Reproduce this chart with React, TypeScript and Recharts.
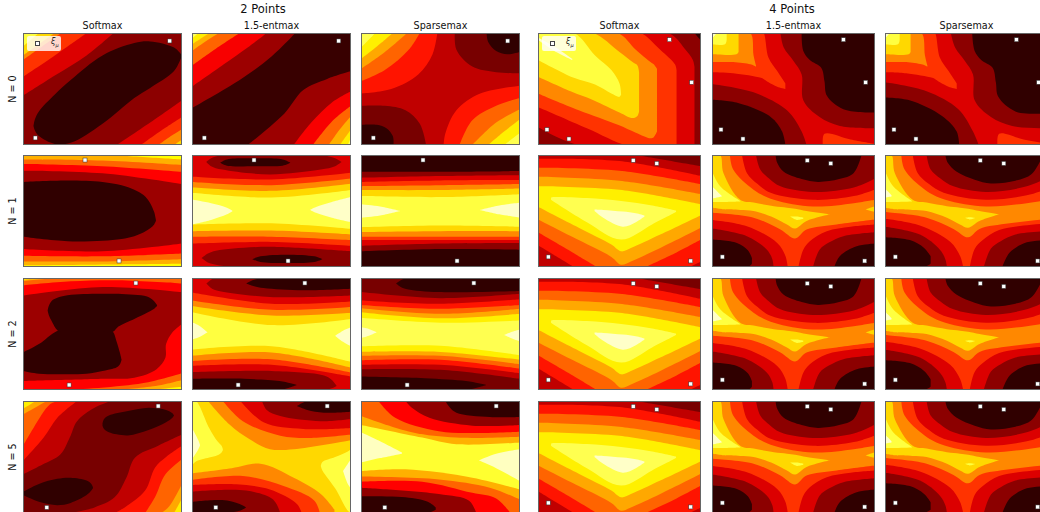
import { Area, ComposedChart, Scatter, XAxis, YAxis } from "recharts";

// one filled contour piece: [level, x values, upper edge, lower edge], all in % of the panel, y from the top
type Region = [number, number[], number | number[], number | number[]];
type Pt = { x: number; y: number };

const hotA = ["#300000", "#8c0000", "#dc0000", "#ff3300", "#ff8800", "#ffd800", "#ffff40", "#ffffc8"];
const hotB = ["#300000", "#780000", "#c00000", "#ff1400", "#ff6400", "#ffa800", "#fff000", "#ffff50", "#ffffc8"];
const hotC = ["#380000", "#9c0000", "#f80000", "#ff6400", "#ffb000", "#ffee00", "#ffff60", "#ffffc8"];
const hotD = ["#300000", "#9c0000", "#ff0000", "#ff6400", "#ffb000", "#ffff00"];
const hotG = ["#300000", "#900000", "#ff0000", "#ff6400", "#ffb000", "#ffff30", "#ffffc0"];

const groupTitles = ["2 Points", "4 Points"];
const methods = ["Softmax", "1.5-entmax", "Sparsemax"];
const rowNames = ["N = 0", "N = 1", "N = 2", "N = 5"];

const ptsN0: Pt[] = [{ x: 7.7, y: 93.7 }, { x: 92.3, y: 7.1 }];
const ptsN1: Pt[] = [{ x: 39, y: 4.5 }, { x: 60.4, y: 94.6 }];
const ptsN2: Pt[] = [{ x: 71, y: 4.5 }, { x: 29, y: 95.5 }];
const ptsN5: Pt[] = [{ x: 85, y: 4.5 }, { x: 15, y: 95 }];
const pts4N0: Pt[] = [{ x: 5.5, y: 86.3 }, { x: 19, y: 94.6 }, { x: 80.6, y: 6 }, { x: 94.3, y: 44 }];
const pts4: Pt[] = [{ x: 58.4, y: 4.8 }, { x: 72.9, y: 7.5 }, { x: 6.3, y: 91 }, { x: 93.7, y: 94.6 }];

const soft2N0: Region[] = [
  [1, [0, 100], 0, 100],
  [2, [0, 20, 40, 57], 0, [56, 38, 20, 0]],
  [3, [0, 20, 40], 0, [39, 20, 0]],
  [4, [0, 12, 24], 0, [24, 12, 0]],
  [5, [0, 10, 20], 0, [20, 10, 0]],
  [6, [0, 10], 0, [12, 0]],
  [2, [59, 80, 100], [100, 80, 60], 100],
  [3, [74, 87, 100], [100, 87, 75], 100],
  [4, [85, 92, 100], [100, 93, 86], 100],
  [5, [95, 100], [100, 95], 100],
  [0, [6.6, 7.5, 10, 20, 30, 50, 70, 80, 95, 100], [83, 77, 70, 55, 42, 20, 9, 7.5, 13, 20], [83, 87, 92, 99, 98, 81, 58, 49, 34, 20]],
];
const ent2N0: Region[] = [
  [0, [0, 100], 0, 100],
  [1, [0, 30, 50, 65], 0, [67, 42, 21, 0]],
  [2, [0, 20, 35, 47], 0, [48, 28, 13, 0]],
  [3, [0, 15, 30], 0, [29, 14, 0]],
  [4, [0, 8, 17], 0, [16, 8, 0]],
  [5, [0, 11], 0, [10, 0]],
  [6, [0, 4], 0, [5, 0]],
  [1, [35, 58, 70, 85, 100], [100, 72, 51, 41, 34], 100],
  [2, [64, 75, 88, 100], [100, 80, 62, 52], 100],
  [3, [76, 88, 100], [100, 79, 65], 100],
  [4, [86, 93, 100], [100, 86, 74], 100],
  [5, [93, 100], [100, 86], 100],
  [6, [98, 100], [100, 93], 100],
];
const sparse2N0: Region[] = [
  [2, [0, 100], 0, 100],
  [1, [59, 60, 70, 85, 100], 0, [0, 15, 30, 35, 36]],
  [0, [79, 80, 85, 92, 100], 0, [0, 8, 16, 19, 17]],
  [1, [0, 15, 28, 37, 41], [65, 65, 69, 81, 100], 100],
  [0, [0, 10, 16, 20, 20.5], [82, 82, 85, 92, 100], 100],
  [3, [0, 19, 36, 45, 48], 0, [54, 50, 37, 19, 0]],
  [4, [0, 15, 30, 37], 0, [43, 33, 15, 0]],
  [5, [0, 15, 29], 0, [32, 17, 0]],
  [6, [0, 10, 20], 0, [23, 12, 0]],
  [7, [0, 9], 0, [13, 0]],
  [3, [52, 53, 60, 75, 100], [100, 90, 69, 54, 47], 100],
  [4, [62, 70, 85, 100], [100, 78, 65, 58], 100],
  [5, [70, 85, 100], [100, 80, 68], 100],
  [6, [80, 90, 100], [100, 88, 77], 100],
  [7, [90, 100], [100, 89], 100],
];
const soft4N0: Region[] = [
  [1, [0, 100], 0, 100],
  [0, [96, 100], 0, [0, 7]],
  [2, [0, 25, 80, 90, 95, 96], [0, 0, 0, 14, 24, 30], [84, 100, 100, 100, 100, 100]],
  [3, [0, 30, 54, 63, 75, 84, 85], [0, 0, 0, 0, 15, 28, 33], [66, 85, 100, 100, 100, 100, 100]],
  [4, [0, 25, 49, 60, 69, 71, 73], [0, 0, 0, 15, 26, 28, 32], [54, 69, 82, 89, 94, 93, 88]],
  [5, [0, 20, 34, 50, 58, 61, 62], [0, 0, 0, 17, 26, 29, 35], [39, 52, 60, 71, 76, 74, 70]],
  [6, [0, 22, 35, 45, 50, 51], [0, 0, 20, 33, 45, 55], [24, 40, 46, 54, 57, 55]],
  [7, [0, 10, 21], [4, 12, 23], [6, 16, 24]],
];
const ent4N0: Region[] = [
  [2, [0, 100], 0, 100],
  [3, [0, 13, 30, 31.6, 34.7, 40, 45], [0, 0, 0, 0, 22, 34, 45], [35, 36, 40, 41, 44, 48, 50]],
  [4, [0, 13, 23.5, 25.5, 27], [0, 0, 0, 20, 29], [26, 26, 28, 29, 30]],
  [5, [0, 15, 16.3], 0, [19, 19, 17]],
  [6, [0, 8, 9], 0, [10, 10, 6]],
  [7, [0, 3], 0, [5, 0]],
  [1, [42, 44, 50, 55, 56, 66, 78.5, 100], 0, [0, 13, 25, 37, 60, 75, 83, 85]],
  [0, [55, 56, 60, 67, 69, 70.5, 80.6, 100], 0, [0, 16, 24, 31, 43, 56, 68, 71]],
  [1, [0, 25.5, 46, 55, 58], [45.5, 53, 69, 88, 100], 100],
  [0, [0, 15, 36, 43, 45], [59.5, 62, 75, 88, 100], 100],
  [3, [68, 69, 85, 100], [100, 90, 95, 99], 100],
];
const sparse4N0: Region[] = [
  [2, [0, 100], 0, 100],
  [3, [0, 13, 29, 30.6, 33.7, 39, 44], [0, 0, 0, 0, 22, 34, 45], [35, 36, 40, 41, 44, 48, 50]],
  [4, [0, 13, 22.4, 24.5, 26], [0, 0, 0, 20, 29], [26, 26, 28, 29, 30]],
  [5, [0, 14.5, 15.7], 0, [19, 19, 17]],
  [6, [0, 8, 9], 0, [10, 10, 6]],
  [7, [0, 3], 0, [5, 0]],
  [1, [40.4, 43, 49, 54, 55, 65, 78, 100], 0, [0, 13, 25, 37, 60, 75, 83, 85]],
  [0, [53.5, 55, 59, 66, 68, 69.5, 80, 100], 0, [0, 16, 24, 31, 44, 57, 70, 72]],
  [1, [0, 25.5, 45, 54, 57.5], [44, 52, 68, 88, 100], 100],
  [0, [0, 15, 35, 44, 45.5], [57.5, 60, 74, 88, 100], 100],
  [3, [69, 70, 85, 100], [100, 90, 95, 99], 100],
];

const soft2N1: Region[] = [
  [1, [0, 100], 0, 100],
  [2, [0, 50, 100], 0, [14, 16.4, 26]],
  [3, [0, 50, 100], 0, [8, 10, 15]],
  [4, [0, 50, 100], 0, [4, 5, 9]],
  [5, [55, 100], 0, [0, 4]],
  [2, [0, 50, 100], [84, 86, 79], 100],
  [3, [0, 50, 100], [90, 90.5, 88], 100],
  [4, [0, 50, 100], [95, 95, 93], 100],
  [5, [0, 100], [98.5, 97], 100],
  [0, [0, 28, 50, 62, 70, 76, 80, 82.5, 83.6], [24, 22.7, 24, 27, 31, 36, 43, 51, 58], [73, 77, 76.5, 75, 72.5, 69, 65.5, 62, 59]],
];
const ent2N1: Region[] = [
  [6, [0, 100], 0, 100],
  [5, [0, 50, 100], 0, [33.7, 38, 31.3]],
  [4, [0, 50, 100], 0, [28.7, 32, 25.7]],
  [3, [0, 50, 100], 0, [24, 26.9, 21]],
  [2, [0, 50, 100], 0, [19.4, 21.8, 15.8]],
  [1, [9, 12, 19, 49, 81, 90, 94], [6.3, 3, 0, 0, 0, 3, 6.3], [6.3, 10, 13, 17.3, 13, 10, 6.3]],
  [0, [17.7, 22, 40, 57, 62], [6.9, 4, 3, 4, 6.9], [6.9, 9.5, 10, 9.5, 6.9]],
  [5, [0, 50, 100], [62, 61, 66], 100],
  [4, [0, 50, 100], [68, 67.5, 71], 100],
  [3, [0, 50, 100], [73, 73, 76], 100],
  [2, [0, 50, 100], [79, 77.6, 81], 100],
  [1, [6, 10, 15, 26, 49, 100], [92, 88, 85.5, 83.5, 82, 86], [92, 96, 98, 100, 100, 100]],
  [0, [38, 43, 60, 77, 82], [93, 90.5, 89, 90.5, 93], [93, 95.5, 96.5, 95.5, 93]],
  [7, [0, 12, 22, 25.7], [39.7, 43, 47, 50], [62, 58, 53, 50]],
  [7, [74.3, 78, 88, 100], [49, 46.5, 42, 37.6], [49, 51.5, 56, 60]],
];
const sparse2N1: Region[] = [
  [6, [0, 100], 0, 100],
  [5, [0, 50, 100], 0, [36.7, 37.6, 35]],
  [4, [0, 50, 100], 0, [31.3, 31.3, 30]],
  [3, [0, 50, 100], 0, [27.8, 27, 26]],
  [2, [0, 50, 100], 0, [24, 22.7, 22.4]],
  [1, [0, 50, 100], 0, [20.3, 18.8, 18]],
  [0, [0, 50, 100], 0, [15, 15, 14.3]],
  [5, [0, 50, 100], [64.5, 63, 64], 100],
  [4, [0, 50, 100], [68.7, 68, 68], 100],
  [3, [0, 50, 100], [73, 73, 73], 100],
  [2, [0, 50, 100], [76, 76, 76], 100],
  [1, [0, 50, 100], [81, 79, 78.5], 100],
  [0, [0, 50, 100], [86, 84, 84.5], 100],
  [7, [0, 12, 24.7], [44, 46, 50], [56, 54, 50]],
  [7, [74.7, 87, 100], [49, 45, 42.7], [49, 53, 56]],
];
const soft4: Region[] = [
  [6, [0, 100], 0, 100],
  [7, [8, 10, 30, 51, 70, 84.7], [38, 37.6, 38.5, 41, 45, 49.5], [40, 42, 60, 75.5, 62, 51]],
  [8, [34.7, 40, 52, 60, 65.3], [48.6, 49, 50.5, 52, 54], [50, 56, 64, 60, 55]],
  [5, [0, 50, 100], 0, [27.8, 31, 44]],
  [4, [0, 50, 100], 0, [19.4, 23, 35]],
  [3, [0, 50, 100], 0, [11.3, 14, 26]],
  [2, [0, 50, 100], 0, [3.3, 5.4, 18.8]],
  [1, [60, 100], 0, [0, 10]],
  [5, [0, 25, 45, 51, 57, 75, 100], [46.3, 65, 80, 86, 83, 71, 53.7], 100],
  [4, [0, 25, 45, 51, 57, 75, 100], [57.6, 76, 91, 98, 95, 83, 65], 100],
  [3, [0, 20, 36], [69, 86, 100], 100],
  [3, [66, 85, 100], [100, 87, 75.5], 100],
  [2, [0, 22], [80.6, 100], 100],
  [2, [93, 100], [100, 95], 100],
];
const ent4: Region[] = [
  [4, [0, 100], 0, 100],
  [5, [0, 5, 7, 17.3, 25.5, 38, 46, 51, 58, 72.4], [0, 0, 16, 40, 42.5, 45.7, 47, 48, 50, 53], [47, 48, 48.5, 49, 50, 56, 62, 65.7, 59, 53]],
  [5, [94, 100], [48.5, 45.7], [48.5, 51]],
  [6, [0, 5, 17.3], [14.3, 28, 41], [42, 42, 41.5]],
  [7, [0, 6], [28, 36.7], [38.8, 37]],
  [6, [48, 52, 56], [55, 55, 56], [55, 58, 57]],
  [3, [11, 13, 25.5, 38, 62, 87, 100], 0, [0, 13, 31, 40, 46, 43, 40]],
  [2, [18.4, 21.4, 28, 36, 62, 87, 100], 0, [0, 16, 26, 33.7, 40, 36.7, 30.7]],
  [1, [27, 29.6, 35, 42, 62, 87, 100], 0, [0, 13, 21, 28, 33, 29, 21]],
  [0, [39, 40, 44, 55, 65, 78, 87, 91.8], 0, [0, 7, 15, 21.5, 24, 21.5, 16, 0]],
  [3, [0, 25.5, 42, 51, 58, 76.5, 100], [51.6, 56, 66.6, 74.6, 66.6, 62, 57.6], 100],
  [2, [0, 21.4, 40, 45, 46.5], [58, 63.6, 78.5, 90, 100], 100],
  [1, [0, 21.4, 33.7, 37, 37.8], [65.7, 72.5, 84.5, 93, 100], 100],
  [0, [0, 15.3, 22, 24.5], [75.5, 78.5, 85, 92], [100, 100, 100, 97]],
  [2, [53, 56, 60, 70.4, 85, 100], [100, 84.5, 77, 68, 64, 62], 100],
  [1, [62, 66, 72, 80.6, 100], [100, 84.5, 78, 72.5, 69], 100],
  [0, [75, 78.6, 88.8, 100], [100, 90, 81.5, 79], 100],
];
const sparse4: Region[] = [
  [4, [0, 100], 0, 100],
  [5, [0, 4, 6, 17, 25.5, 38, 46, 51, 58, 70], [0, 0, 16, 40, 42.5, 45.7, 47, 48, 50, 53], [47, 48, 48.5, 49, 50, 56, 62, 65, 59, 53]],
  [6, [0, 5, 16.5], [14.3, 28, 41], [42, 42, 41.5]],
  [7, [0, 4], [30, 36], [38, 37]],
  [6, [49, 52, 55], [56, 55.5, 56], [56, 57.5, 56.5]],
  [3, [10, 12, 24.5, 37, 62, 87, 100], 0, [0, 13, 31, 40, 46, 43, 40]],
  [2, [17, 20, 27, 36, 62, 87, 100], 0, [0, 16, 26, 33.7, 40, 36, 30]],
  [1, [25.5, 28, 34, 42, 62, 87, 100], 0, [0, 13, 21, 28, 33, 28, 20]],
  [0, [37, 38.5, 44, 55, 65, 80, 90, 97], 0, [0, 7, 15, 22, 25.4, 23, 17, 0]],
  [3, [0, 25.5, 42, 51, 58, 76.5, 100], [51, 56, 66, 73.5, 66, 61, 57], 100],
  [2, [0, 21.4, 40, 46, 48], [57, 63, 77.5, 90, 100], 100],
  [1, [0, 21.4, 33.7, 37, 38], [64, 71, 84.5, 93, 100], 100],
  [0, [0, 15.3, 24, 28], [73.4, 76, 83, 90.4], [100, 100, 100, 97]],
  [2, [52, 55, 60, 70, 85, 100], [100, 84, 76, 67, 63, 61], 100],
  [1, [60.6, 65, 71, 80, 100], [100, 83.5, 77, 71, 68], 100],
  [0, [72, 76.5, 87, 100], [100, 87, 78, 76], 100],
];

const soft2N2: Region[] = [
  [1, [0, 100], 0, 100],
  [2, [0, 50, 100], 0, [15.6, 8, 12.6]],
  [3, [0, 30, 60, 100], 0, [6.6, 3, 2, 5]],
  [4, [0, 20], 0, [2.7, 0]],
  [5, [0, 10], 0, [1.5, 0]],
  [2, [0, 50, 70, 84, 89.6, 90, 94, 100], [92, 90, 89, 81.4, 71, 59, 48.5, 41], 100],
  [3, [30, 75, 100], [100, 94, 85], 100],
  [4, [60, 85, 100], [100, 96, 91], 100],
  [5, [80, 100], [100, 97], 100],
  [0, [0, 10, 21.7, 40, 50, 56.6, 58.7, 61, 62], [66.5, 59, 47, 40, 40, 48, 56, 67, 73], [83, 85.5, 86, 85.5, 83, 81, 80, 77, 73]],
  [0, [15.5, 16.2, 18, 22, 28, 38, 49, 56.6, 60, 70, 78, 82, 84.3], [29, 25, 20.5, 17.5, 15.5, 14.3, 14, 14, 14, 15, 16.5, 20, 24], [29, 33, 38.5, 47, 48, 48, 48, 48, 43.4, 36.5, 31, 28, 25]],
];
const ent2N2: Region[] = [
  [6, [0, 100], 0, 100],
  [5, [0, 50, 100], 0, [30.5, 42, 36.5]],
  [4, [0, 50, 100], 0, [25, 33.5, 31]],
  [3, [0, 50, 100], 0, [20, 28.4, 26]],
  [2, [0, 50, 100], 0, [13, 23, 21]],
  [1, [9, 12, 15, 49, 100], [5, 1.5, 0, 0, 0], [5, 9, 11, 17, 15.6]],
  [0, [34, 38, 45, 70, 100], [5, 2, 0, 0, 0], [5, 7, 9, 11, 9.6]],
  [5, [0, 50, 100], [64, 61, 75], 100],
  [4, [0, 50, 100], [69.5, 66.5, 80], 100],
  [3, [0, 50, 100], [74, 72.5, 84.4], 100],
  [2, [0, 50, 100], [78.4, 77.5, 88], 100],
  [1, [0, 50, 83, 88, 91], [84, 83, 87, 91, 96.4], [100, 100, 100, 98.5, 96.4]],
  [0, [0, 33, 55, 62, 66], [90, 90, 92, 94, 95.5], [100, 100, 100, 97.5, 95.5]],
  [7, [0, 5, 9.8], [39.5, 43, 48.5], [55, 52.5, 48.5]],
  [7, [90, 95, 100], [51.5, 47, 44], [51.5, 57, 61]],
];
const sparse2N2: Region[] = [
  [7, [0, 100], 0, 100],
  [6, [0, 50, 100], 0, [35.6, 40, 38]],
  [5, [0, 50, 100], 0, [30.5, 36, 32]],
  [4, [0, 50, 100], 0, [27, 32, 27.5]],
  [3, [0, 50, 100], 0, [24, 27.5, 24]],
  [2, [0, 50, 100], 0, [20, 23, 19]],
  [1, [0, 50, 100], 0, [12.6, 18, 14]],
  [0, [22, 25, 29, 49, 100], [5, 2, 0, 0, 0], [5, 8, 10, 12.6, 11.5]],
  [6, [0, 50, 100], [61, 60.5, 69], 100],
  [5, [0, 50, 100], [66, 66, 73], 100],
  [4, [0, 50, 100], [69.5, 69.5, 77], 100],
  [3, [0, 50, 100], [73.4, 73, 81], 100],
  [2, [0, 50, 100], [77.5, 77.5, 85], 100],
  [1, [0, 50, 100], [81.4, 82, 90], 100],
  [0, [0, 40, 66, 74, 79], [88, 89.5, 92, 94, 95.5], [100, 100, 100, 97.5, 95.5]],
  [8, [0, 5, 10], [44, 45.5, 48.5], [53.6, 51.5, 48.5]],
  [8, [90, 95, 100], [51, 48, 46], [51, 54, 56.6]],
];

const soft2N5: Region[] = [
  [1, [0, 100], 0, 100],
  [2, [0, 12, 23.6, 29.4, 34, 45, 55.5], 0, [65.5, 57, 47.6, 32.7, 18, 6, 0]],
  [3, [0, 13, 21.6, 34], 0, [53.6, 32.7, 15, 0]],
  [4, [0, 6.6, 17, 22.5], 0, [40, 24, 3, 0]],
  [5, [0, 15], 0, [12, 0]],
  [6, [0, 8], 0, [7, 0]],
  [2, [30, 45, 57.6, 65, 70.4, 85, 100], [100, 95, 86, 68.5, 50.6, 40, 30], 100],
  [3, [57.6, 64, 76.8, 83, 90, 100], [100, 95, 80, 59.5, 50, 40], 100],
  [4, [76.8, 83, 89.6, 100], [100, 86, 65.5, 52], 100],
  [5, [87, 92, 100], [100, 94, 74], 100],
  [6, [95, 100], [100, 87], 100],
  [0, [50, 51, 54, 66, 79, 90, 94, 95], [20, 16, 13, 9, 6, 8, 11, 13], [22, 25, 28, 30.7, 26, 19, 15, 13]],
  [0, [0, 10, 21.5, 30, 40, 43, 44], [81, 74, 69.5, 68.5, 71, 74, 77], [84, 90, 93, 91, 84, 80, 78]],
];
const ent2N5: Region[] = [
  [5, [0, 100], 0, 100],
  [6, [0, 2.5, 10.8, 16, 18.6, 19.4], [0, 0, 24, 36, 40, 43], [57.4, 54, 50.5, 48.5, 46, 44]],
  [7, [0, 4, 5], [24, 35, 39], [52, 43, 40]],
  [6, [81, 82, 90, 98, 100], [58, 54.5, 50, 45, 43], [58, 62, 78, 98, 100]],
  [7, [95, 98, 100], [62.5, 56, 52], [62.5, 74, 78]],
  [4, [10, 23.6, 36, 49, 64, 100], 0, [0, 21, 34, 43, 43, 35]],
  [3, [19.4, 32, 55.5, 75, 100], 0, [0, 18, 31, 33, 30]],
  [2, [30.4, 45, 70, 100], 0, [0, 19, 25, 24]],
  [1, [44, 47, 55.5, 81, 100], 0, [0, 8, 13.4, 18, 16]],
  [0, [66, 72.5, 83, 100], [4.5, 0, 0, 0], [4.5, 8, 10.4, 9.5]],
  [4, [0, 25, 43, 64, 81, 89.6], [64.6, 60, 56, 68.5, 83, 97], 100],
  [3, [0, 32, 57.6, 77, 80.4], [70.5, 67, 76, 89, 100], 100],
  [2, [0, 28, 49, 66, 69], [75, 74.4, 79, 92, 100], 100],
  [1, [0, 34, 51, 55.5], [81, 80, 88, 100], 100],
  [0, [0, 19, 30, 34], [90, 88.5, 92, 95], [100, 100, 98, 95]],
];
const sparse2N5: Region[] = [
  [5, [0, 100], 0, 100],
  [4, [0, 38.5, 60, 100], 0, [21.4, 32.7, 38.7, 37]],
  [3, [0, 32, 60, 100], 0, [13.4, 28, 32.7, 32]],
  [2, [11, 21.5, 49, 75, 100], 0, [0, 15, 27, 28.5, 27.5]],
  [1, [28, 32, 43, 70, 100], 0, [0, 6, 15, 22, 21.4]],
  [0, [53, 56, 60, 81, 100], 0, [0, 6, 10.4, 14.3, 14.3]],
  [4, [0, 28, 70, 100], [62.5, 61, 68.5, 79], 100],
  [3, [0, 49, 81, 100], [67.5, 70, 77.4, 88], 100],
  [2, [0, 38.5, 70, 85, 94], [72, 72, 82, 87, 100], 100],
  [1, [0, 49, 68, 72.5], [77.4, 83, 89, 100], 100],
  [0, [0, 28, 42, 47], [85, 86, 90, 95], [100, 100, 100, 97]],
  [6, [0, 12, 25.7], [28, 36, 46], [55, 51, 47]],
  [6, [74, 85, 100], [53, 47, 43], [53, 60, 71.5]],
];

const colLefts = [23, 192, 361, 538, 712, 885];
const colWidths = [159, 159, 159, 163, 163, 163];
const rowTops = [33, 155, 278, 401];
const panelH = 112;

type PanelDef = { regions: Region[]; hot: string[]; points: Pt[] };
const panels: PanelDef[][] = [
  [
    { regions: soft2N0, hot: hotA, points: ptsN0 },
    { regions: ent2N0, hot: hotC, points: ptsN0 },
    { regions: sparse2N0, hot: hotB, points: ptsN0 },
    { regions: soft4N0, hot: hotA, points: pts4N0 },
    { regions: ent4N0, hot: hotA, points: pts4N0 },
    { regions: sparse4N0, hot: hotA, points: pts4N0 },
  ],
  [
    { regions: soft2N1, hot: hotD, points: ptsN1 },
    { regions: ent2N1, hot: hotA, points: ptsN1 },
    { regions: sparse2N1, hot: hotA, points: ptsN1 },
    { regions: soft4, hot: hotB, points: pts4 },
    { regions: ent4, hot: hotA, points: pts4 },
    { regions: sparse4, hot: hotA, points: pts4 },
  ],
  [
    { regions: soft2N2, hot: hotD, points: ptsN2 },
    { regions: ent2N2, hot: hotA, points: ptsN2 },
    { regions: sparse2N2, hot: hotB, points: ptsN2 },
    { regions: soft4, hot: hotB, points: pts4 },
    { regions: ent4, hot: hotA, points: pts4 },
    { regions: sparse4, hot: hotA, points: pts4 },
  ],
  [
    { regions: soft2N5, hot: hotB, points: ptsN5 },
    { regions: ent2N5, hot: hotA, points: ptsN5 },
    { regions: sparse2N5, hot: hotG, points: ptsN5 },
    { regions: soft4, hot: hotB, points: pts4 },
    { regions: ent4, hot: hotA, points: pts4 },
    { regions: sparse4, hot: hotA, points: pts4 },
  ],
];

const font = "'DejaVu Sans', sans-serif";

function regionRows(r: Region) {
  const [, xs, top, bottom] = r;
  return xs.map((x, i) => ({
    x,
    band: [
      typeof top === "number" ? top : top[i],
      typeof bottom === "number" ? bottom : bottom[i],
    ],
  }));
}

// centripetal catmull-rom, the stock recharts curves go angular with this few points
function roundCurve(context: any) {
  let pts: number[][] = [];
  let second = false;
  return {
    areaStart() { second = false; },
    areaEnd() {},
    lineStart() { pts = []; },
    point(x: number, y: number) { pts.push([+x, +y]); },
    lineEnd() {
      pts.forEach((p, i) => {
        if (i === 0) {
          if (second) context.lineTo(p[0], p[1]);
          else context.moveTo(p[0], p[1]);
          return;
        }
        const p1 = pts[i - 1];
        const p0 = pts[i - 2] ?? p1;
        const p3 = pts[i + 1] ?? p;
        const a = Math.hypot(p1[0] - p0[0], p1[1] - p0[1]);
        const b = Math.hypot(p[0] - p1[0], p[1] - p1[1]);
        const c = Math.hypot(p3[0] - p[0], p3[1] - p[1]);
        const [ra, rb, rc] = [Math.sqrt(a), Math.sqrt(b), Math.sqrt(c)];
        const c1 = ra > 0
          ? [0, 1].map((k) => (p[k] * a - p0[k] * b + p1[k] * (2 * a + 3 * ra * rb + b)) / (3 * ra * (ra + rb)))
          : p1;
        const c2 = rc > 0
          ? [0, 1].map((k) => (p1[k] * c - p3[k] * b + p[k] * (2 * c + 3 * rc * rb + b)) / (3 * rc * (rc + rb)))
          : p;
        context.bezierCurveTo(c1[0], c1[1], c2[0], c2[1], p[0], p[1]);
      });
      if (second) context.closePath();
      second = !second;
    },
  };
}

const Marker = (props: any) => (
  <rect x={props.cx - 2} y={props.cy - 2} width={4} height={4} fill="#fff" stroke="#333" strokeWidth={0.5} />
);

function Panel({ def, width }: { def: PanelDef; width: number }) {
  return (
    <ComposedChart width={width} height={panelH} margin={{ top: 0, right: 0, bottom: 0, left: 0 }}>
      <XAxis hide dataKey="x" type="number" domain={[0, 100]} allowDataOverflow />
      <YAxis hide type="number" domain={[0, 100]} reversed allowDataOverflow />
      {def.regions.map((r, i) => (
        <Area
          key={i}
          data={regionRows(r)}
          dataKey="band"
          type={roundCurve as any}
          fill={def.hot[r[0]]}
          fillOpacity={1}
          stroke="none"
          dot={false}
          activeDot={false}
          isAnimationActive={false}
        />
      ))}
      <Scatter data={def.points} dataKey="y" shape={Marker} isAnimationActive={false} />
    </ComposedChart>
  );
}

function Legend({ left }: { left: number }) {
  return (
    <div
      style={{
        position: "absolute", left, top: 36, width: 34, height: 15,
        background: "rgba(255,255,255,0.8)", borderRadius: 2, fontFamily: font,
      }}
    >
      <div style={{ position: "absolute", left: 8, top: 5, width: 3, height: 3, background: "#fff", border: "1px solid #444" }} />
      <div style={{ position: "absolute", left: 24, top: 1, fontSize: 8, fontStyle: "italic", color: "#222" }}>
        ξ<sub style={{ fontSize: 5 }}>μ</sub>
      </div>
    </div>
  );
}

function Label({ x, y, size, text, rotate }: { x: number; y: number; size: number; text: string; rotate?: boolean }) {
  return (
    <div
      style={{
        position: "absolute", left: x, top: y, fontFamily: font, fontSize: size, color: "#111", whiteSpace: "nowrap",
        transform: `translate(-50%, -50%)${rotate ? " rotate(-90deg)" : ""}`,
      }}
    >
      {text}
    </div>
  );
}

export default function App() {
  return (
    <div style={{ position: "absolute", left: 0, top: 0, width: 1040, height: 512, overflow: "hidden", background: "#fff" }}>
      <Label x={263} y={9} size={11.5} text={groupTitles[0]} />
      <Label x={792} y={9} size={11.5} text={groupTitles[1]} />
      {colLefts.map((left, c) => (
        <Label key={c} x={left + colWidths[c] / 2} y={25} size={9.6} text={methods[c % 3]} />
      ))}
      {rowNames.map((name, r) => (
        <Label key={name} x={12} y={rowTops[r] + panelH / 2} size={9.6} text={name} rotate />
      ))}
      {panels.map((row, r) =>
        row.map((def, c) => (
          <div
            key={`${r}-${c}`}
            style={{ position: "absolute", left: colLefts[c], top: rowTops[r], width: colWidths[c], height: panelH }}
          >
            <Panel def={def} width={colWidths[c]} />
            <div style={{ position: "absolute", inset: 0, boxSizing: "border-box", border: "1px solid #666", pointerEvents: "none" }} />
          </div>
        ))
      )}
      <Legend left={27} />
      <Legend left={542} />
    </div>
  );
}
